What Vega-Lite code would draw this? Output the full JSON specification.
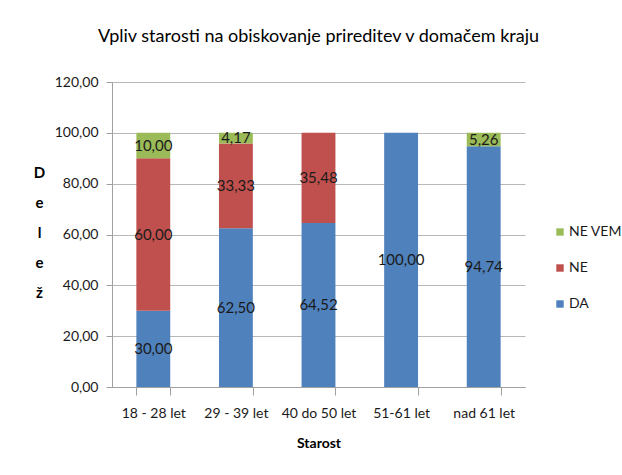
{
  "$schema": "https://vega.github.io/schema/vega-lite/v6.json",
  "width": 413,
  "height": 305,
  "autosize": {"type": "none"},
  "padding": {"left": 112, "top": 82, "right": 97, "bottom": 88},
  "background": "white",
  "title": {
    "text": "Vpliv starosti na obiskovanje  prireditev v domačem kraju",
    "font": "Lato",
    "fontSize": 18,
    "fontWeight": "normal",
    "color": "black",
    "anchor": "middle",
    "offset": 29
  },
  "data": {
    "values": [
      {"starost": "18 - 28 let", "odgovor": "DA", "delez": 30.00},
      {"starost": "18 - 28 let", "odgovor": "NE", "delez": 60.00},
      {"starost": "18 - 28 let", "odgovor": "NE VEM", "delez": 10.00},
      {"starost": "29 - 39 let", "odgovor": "DA", "delez": 62.50},
      {"starost": "29 - 39 let", "odgovor": "NE", "delez": 33.33},
      {"starost": "29 - 39 let", "odgovor": "NE VEM", "delez": 4.17},
      {"starost": "40 do 50 let", "odgovor": "DA", "delez": 64.52},
      {"starost": "40 do 50 let", "odgovor": "NE", "delez": 35.48},
      {"starost": "51-61 let", "odgovor": "DA", "delez": 100.00},
      {"starost": "nad 61 let", "odgovor": "DA", "delez": 94.74},
      {"starost": "nad 61 let", "odgovor": "NE VEM", "delez": 5.26}
    ]
  },
  "transform": [
    {"stack": "delez", "groupby": ["starost"], "sort": [{"field": "odgovor", "order": "ascending"}], "as": ["y0", "y1"]},
    {"calculate": "(datum.y0 + datum.y1) / 2", "as": "ymid"}
  ],
  "encoding": {
    "x": {
      "field": "starost",
      "type": "nominal",
      "sort": ["18 - 28 let", "29 - 39 let", "40 do 50 let", "51-61 let", "nad 61 let"],
      "scale": {"paddingInner": 0.59, "paddingOuter": 0.295},
      "axis": {
        "title": "Starost",
        "labelAngle": 0,
        "tickBand": "extent",
        "tickSize": 8,
        "labelPadding": 11,
        "titlePadding": 16,
        "domainColor": "#A0A0A0",
        "tickColor": "#A0A0A0",
        "grid": false
      }
    }
  },
  "layer": [
    {
      "mark": {"type": "bar", "stroke": null},
      "encoding": {
        "y": {
          "field": "y0",
          "type": "quantitative",
          "scale": {"domain": [0, 120]},
          "axis": {
            "title": ["D", "e", "l", "e", "ž"],
            "titleAngle": 0,
            "titleAlign": "center",
            "titleBaseline": "middle",
            "titleX": -73,
            "titleY": 90,
            "titleLineHeight": 30,
            "titleFontSize": 15,
            "format": ".2f",
            "values": [0, 20, 40, 60, 80, 100, 120],
            "tickSize": 6,
            "labelPadding": 8,
            "domainColor": "#A0A0A0",
            "tickColor": "#A0A0A0",
            "gridColor": "#B8B8B8"
          }
        },
        "y2": {"field": "y1"},
        "color": {
          "field": "odgovor",
          "type": "nominal",
          "scale": {
            "domain": ["NE VEM", "NE", "DA"],
            "range": ["#9BBB59", "#C0504D", "#4F81BD"]
          },
          "legend": {
            "title": null,
            "orient": "none",
            "legendX": 441,
            "legendY": 143,
            "symbolType": "square",
            "symbolSize": 55,
            "symbolStrokeWidth": 0,
            "labelFontSize": 14,
            "labelOffset": 2,
            "rowPadding": 22
          }
        }
      }
    },
    {
      "mark": {"type": "text", "fontSize": 15, "color": "#1a1a1a", "baseline": "middle"},
      "encoding": {
        "y": {"field": "ymid", "type": "quantitative"},
        "text": {"field": "delez", "type": "quantitative", "format": ".2f"}
      }
    }
  ],
  "config": {
    "locale": {
      "number": {"decimal": ",", "thousands": ".", "grouping": [3], "currency": ["", " €"]}
    },
    "font": "Lato",
    "view": {"stroke": null},
    "axis": {
      "labelFont": "Lato",
      "titleFont": "Lato",
      "labelFontSize": 14,
      "labelColor": "#1a1a1a",
      "titleFontSize": 14,
      "titleFontWeight": "bold",
      "titleColor": "black"
    },
    "legend": {"labelFont": "Lato", "labelColor": "#1a1a1a"},
    "text": {"font": "Lato"}
  }
}
